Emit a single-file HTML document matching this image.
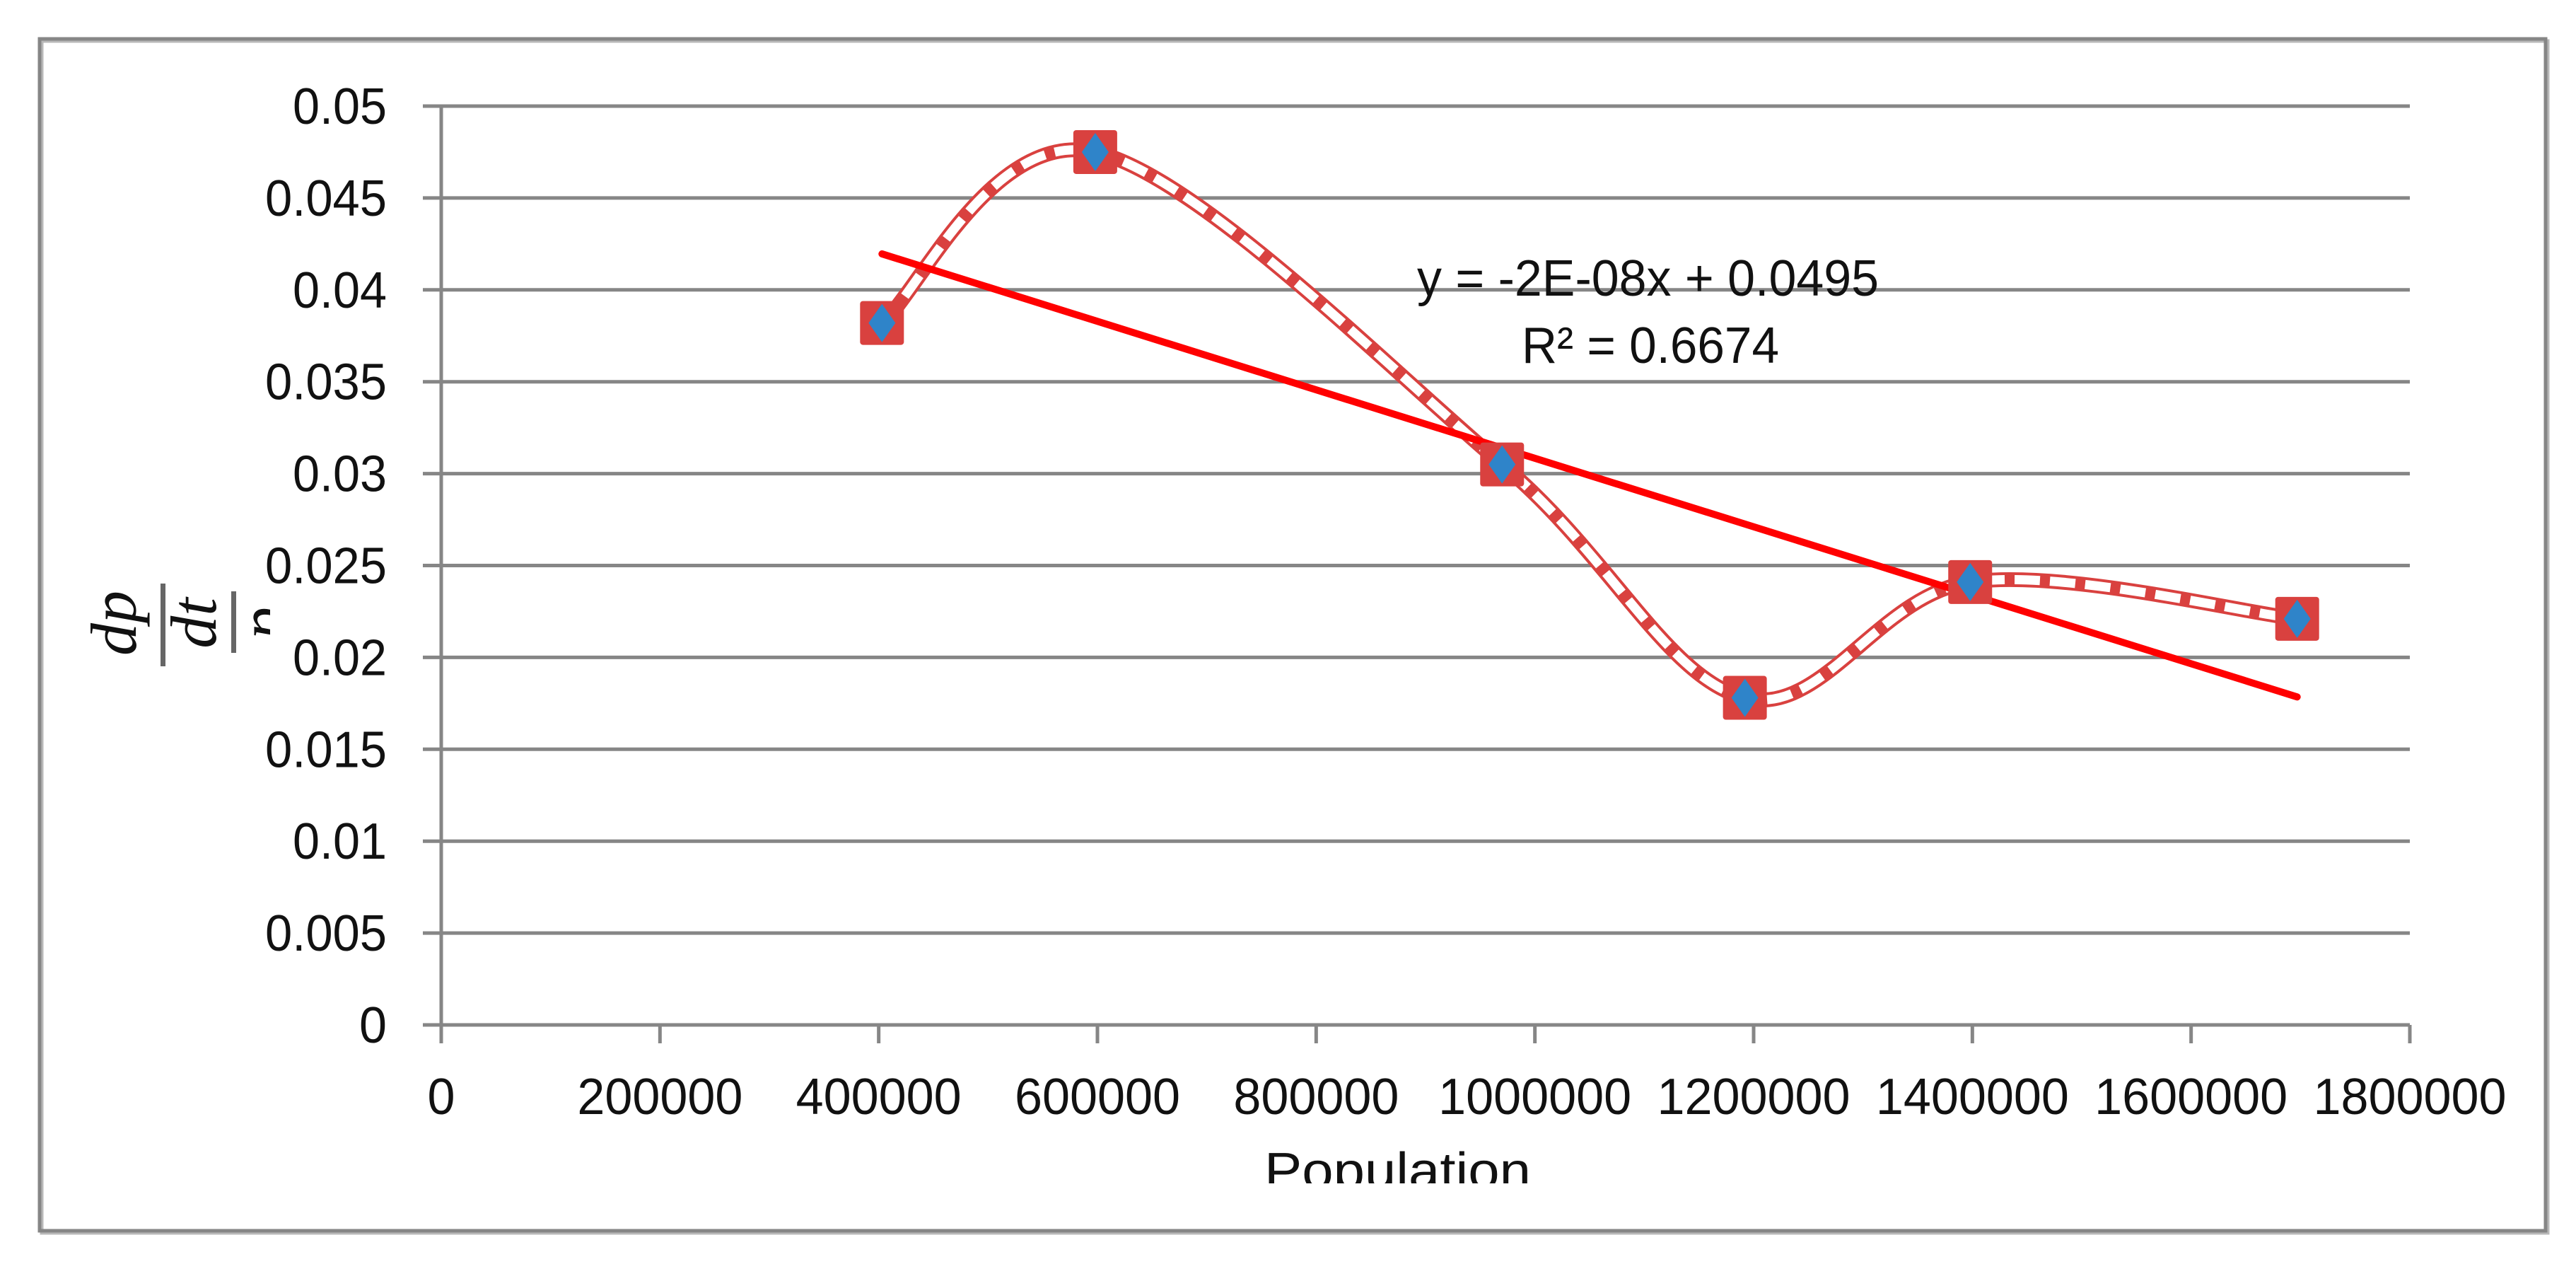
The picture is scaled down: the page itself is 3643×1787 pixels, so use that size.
<!DOCTYPE html>
<html><head><meta charset="utf-8"><style>
html,body{margin:0;padding:0;background:#fff;}
svg{display:block;}
</style></head><body>
<svg id="chart" width="3643" height="1787" viewBox="0 0 3643 1787" xmlns="http://www.w3.org/2000/svg">
<defs>
<clipPath id="xtclip"><rect x="0" y="1590" width="3643" height="83"/></clipPath>
<clipPath id="ytclip"><rect x="100" y="700" width="282" height="400"/></clipPath>
</defs>
<rect x="0" y="0" width="3643" height="1787" fill="#fff"/>
<rect x="59" y="58" width="3544" height="1685" fill="none" stroke="#b8b8b8" stroke-width="5"/>
<rect x="56" y="55" width="3544" height="1685" fill="none" stroke="#868686" stroke-width="5"/>
<g id="grid"></g>
<g id="axes"></g>
<g id="ylabels" font-family="Liberation Sans, sans-serif" font-size="72" fill="#111" text-anchor="end"></g>
<g id="xlabels" font-family="Liberation Sans, sans-serif" font-size="72" fill="#111" text-anchor="middle"></g>
<g id="series"></g>
<text x="2004" y="418" font-family="Liberation Sans, sans-serif" font-size="72" fill="#111" textLength="653" lengthAdjust="spacingAndGlyphs">y = -2E-08x + 0.0495</text>
<text x="2152" y="513" font-family="Liberation Sans, sans-serif" font-size="72" fill="#111" textLength="364" lengthAdjust="spacingAndGlyphs">R² = 0.6674</text>
<g clip-path="url(#xtclip)">
<text x="1788" y="1680" font-family="Liberation Sans, sans-serif" font-size="72" fill="#111" textLength="377" lengthAdjust="spacingAndGlyphs">Population</text>
</g>
<g clip-path="url(#ytclip)" font-family="Liberation Serif, serif" font-style="italic" font-size="92" fill="#111">
<text transform="translate(192,881) rotate(-90)" text-anchor="middle">dp</text>
<rect x="227" y="825" width="7" height="117" fill="#666"/>
<text transform="translate(305,881) rotate(-90)" text-anchor="middle">dt</text>
<rect x="327" y="836" width="7" height="87" fill="#666"/>
<text transform="translate(402,881) rotate(-90)" text-anchor="middle">p</text>
</g>
</svg>
<script>
const xTicks = [0,200000,400000,600000,800000,1000000,1200000,1400000,1600000,1800000];
const yTicks = [0,0.005,0.01,0.015,0.02,0.025,0.03,0.035,0.04,0.045,0.05];
const yTickLabels = ["0","0.005","0.01","0.015","0.02","0.025","0.03","0.035","0.04","0.045","0.05"];
const popValues = [403000,598000,970000,1192000,1398000,1697000];
const rateValues = [0.0382,0.0475,0.0305,0.0178,0.0241,0.0221];

const X0=624, X1=3408, Y0=1449, Y1=150;
function sx(v){return X0+(v-0)/(1800000)*(X1-X0);}
function sy(v){return Y0-(v/0.05)*(Y0-Y1);}
function tw(s){let w=0;for(const c of s)w+=(c==='.')?16:39;return w;}
const NS="http://www.w3.org/2000/svg";
function mk(tag,parent,attrs){const e=document.createElementNS(NS,tag);for(const k in attrs)e.setAttribute(k,attrs[k]);parent.appendChild(e);return e;}

const grid=document.getElementById('grid');
yTicks.forEach((t,i)=>{
  const l=mk('line',grid,{x1:598,x2:X1,y1:sy(t),y2:sy(t),stroke:'#868686','stroke-width':5});
  
  
  const tx=mk('text',document.getElementById('ylabels'),{x:547,y:sy(t)+25,textLength:tw(yTickLabels[i]),lengthAdjust:'spacingAndGlyphs'});
  tx.textContent=yTickLabels[i];
  
  
});
const axes=document.getElementById('axes');
const ya=mk('line',axes,{x1:X0,x2:X0,y1:Y1-2,y2:Y0+26,stroke:'#868686','stroke-width':5});


xTicks.forEach(t=>{
  const tk=mk('line',axes,{x1:sx(t),x2:sx(t),y1:Y0,y2:Y0+26,stroke:'#868686','stroke-width':5});
  
  
  const s=String(t);
  const tx=mk('text',document.getElementById('xlabels'),{x:sx(t),y:1575,textLength:tw(s),lengthAdjust:'spacingAndGlyphs'});
  tx.textContent=s;
  
  
});

const series=document.getElementById('series');
const P=popValues.map((v,i)=>[sx(v),sy(rateValues[i])]);
let d=`M${P[0][0]},${P[0][1]}`;
for(let i=0;i<P.length-1;i++){
  const p0=P[Math.max(0,i-1)],p1=P[i],p2=P[i+1],p3=P[Math.min(P.length-1,i+2)];
  const c1=[p1[0]+(p2[0]-p0[0])/6,p1[1]+(p2[1]-p0[1])/6];
  const c2=[p2[0]-(p3[0]-p1[0])/6,p2[1]-(p3[1]-p1[1])/6];
  d+=` C${c1[0]},${c1[1]} ${c2[0]},${c2[1]} ${p2[0]},${p2[1]}`;
}
const outer=mk('path',series,{d:d,fill:'none',stroke:'#d9413f','stroke-width':21});


const inner=mk('path',series,{d:d,fill:'none',stroke:'#fff','stroke-width':13,'stroke-dasharray':'36 14'});



const n=popValues.length;
const mx=popValues.reduce((a,b)=>a+b,0)/n, my=rateValues.reduce((a,b)=>a+b,0)/n;
let sxy=0,sxx=0;for(let i=0;i<n;i++){sxy+=(popValues[i]-mx)*(rateValues[i]-my);sxx+=(popValues[i]-mx)**2;}
const slope=sxy/sxx, icpt=my-slope*mx;
const xa=popValues[0], xb=popValues[n-1];
const tr=mk('line',series,{x1:sx(xa),y1:sy(icpt+slope*xa),x2:sx(xb),y2:sy(icpt+slope*xb),stroke:'#ff0000','stroke-width':10,'stroke-linecap':'round'});



P.forEach((p,i)=>{
  const sq=mk('rect',series,{x:p[0]-31,y:p[1]-31,width:62,height:62,rx:4,fill:'#d9413f'});
  
  
  const dm=mk('polygon',series,{points:`${p[0]},${p[1]-27} ${p[0]+19},${p[1]} ${p[0]},${p[1]+27} ${p[0]-19},${p[1]}`,fill:'#2f84c9'});
  
  
});
</script>
</body></html>
